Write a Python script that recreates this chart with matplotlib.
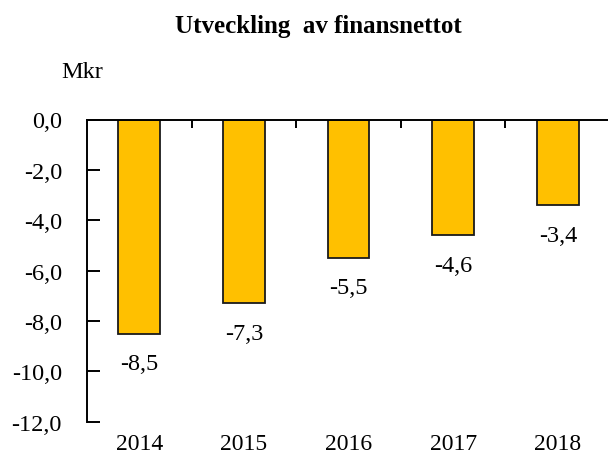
import matplotlib
matplotlib.use("Agg")
import matplotlib.pyplot as plt
from matplotlib.ticker import FixedLocator, FuncFormatter

years = ["2014", "2015", "2016", "2017", "2018"]
values = [-8.5, -7.3, -5.5, -4.6, -3.4]
yticks = [0, -2, -4, -6, -8, -10, -12]

plt.rcParams['font.family'] = ['Liberation Serif', 'DejaVu Serif']

fig = plt.figure(figsize=(6.08, 4.56), dpi=100)
ax = fig.add_axes([87/608, 1 - 422.7/456, 1 - 87/608, (422.7 - 120.5)/456])

x = list(range(len(years)))
bars = ax.bar(x, values, width=0.40, color="#FFC000", edgecolor="#1a1a1a", linewidth=1.3, zorder=2)

ax.set_xlim(-0.5, 4.48)
ax.set_ylim(-12, 0)

for spine in ["bottom", "right"]:
    ax.spines[spine].set_visible(False)
ax.spines["top"].set_linewidth(1.4)
ax.spines["left"].set_linewidth(1.4)
ax.spines["top"].set_zorder(3)

ax.yaxis.set_major_locator(FixedLocator(yticks))
ax.yaxis.set_major_formatter(FuncFormatter(lambda v, p: f"{v:.1f}".replace(".", ",")))
ax.tick_params(axis="y", direction="in", length=9, width=1.4, pad=18, labelsize=17.5)

ax.set_xticks(x)
ax.set_xticklabels(years)
ax.set_xticks([i + 0.5 for i in range(len(years) - 1)], minor=True)
ax.tick_params(axis="x", which="major", bottom=False, top=True, direction="in",
               length=6, width=1.4, pad=8, labelsize=17)
ax.tick_params(axis="x", which="minor", bottom=False, top=True, direction="in",
               length=6, width=1.4)

for xi, v in zip(x, values):
    ax.annotate(f"{v:.1f}".replace(".", ","), xy=(xi, v), xytext=(0, -14),
                textcoords="offset points", ha="center", va="top", fontsize=17.5)

fig.text(82/608, 1 - 72/456, "Mkr", ha="center", va="center", fontsize=17.5)
fig.text(318/608, 1 - 27/456, "Utveckling  av finansnettot", ha="center", va="center",
         fontsize=18, fontweight="bold")

fig.savefig("out.png", dpi=100)
